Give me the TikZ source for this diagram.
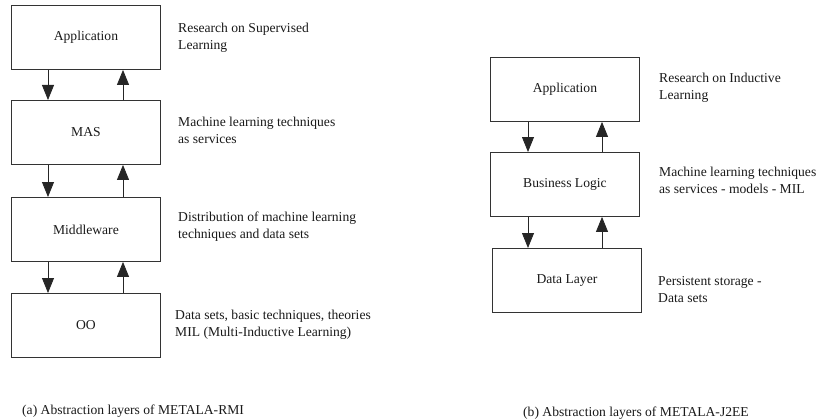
\documentclass[tikz,border=0pt]{standalone}
\usepackage{fontspec}
\setmainfont{Liberation Serif}
\usetikzlibrary{arrows.meta}
\begin{document}
\begin{tikzpicture}[x=1pt,y=-1pt,
  every node/.style={font=\fontsize{13.6}{17}\selectfont, text=black!90},
  layer/.style={draw=black!80, line width=0.9pt, minimum width=149pt, minimum height=64pt, inner sep=0pt, anchor=north west},
  desc/.style={anchor=west, align=left, inner sep=0pt},
  flow/.style={draw=black!85, line width=0.8pt, -{Triangle[width=12pt,length=15pt]}}
]
\useasboundingbox (0,0) rectangle (817,420);
% left stack
\node[layer] (a1) at (11,5) {Application};
\node[layer] (a2) at (11,100) {MAS};
\node[layer] (a3) at (11,197) {Middleware};
\node[layer] (a4) at (11,293) {OO};
\foreach \u/\l in {a1/a2,a2/a3,a3/a4}{
  \draw[flow] ([xshift=37pt]\u.south west) -- ([xshift=37pt]\l.north west);
  \draw[flow] ([xshift=112pt]\l.north west) -- ([xshift=112pt]\u.south west);
}
\node[desc] (t1) at (178,38) {Research on Supervised\\Learning};
\node[desc] (t2) at (178,130) {Machine learning techniques\\as services};
\node[desc] (t3) at (178,226.5) {Distribution of machine learning\\techniques and data sets};
\node[desc] (t4) at (175,325) {Data sets, basic techniques, theories\\MIL (Multi-Inductive Learning)};
\node[desc] (ca) at (22,411) {(a) Abstraction layers of METALA-RMI};
% right stack
\node[layer] (b1) at (490,57) {Application};
\node[layer] (b2) at (490,152) {Business Logic};
\node[layer] (b3) at (492,248) {Data Layer};
\draw[flow] ([xshift=38pt]b1.south west) -- ([xshift=38pt]b2.north west);
\draw[flow] ([xshift=112pt]b2.north west) -- ([xshift=112pt]b1.south west);
\draw[flow] ([xshift=38pt]b2.south west) -- ([xshift=36pt]b3.north west);
\draw[flow] ([xshift=110pt]b3.north west) -- ([xshift=112pt]b2.south west);
\node[desc] (r1) at (659,87.5) {Research on Inductive\\Learning};
\node[desc] (r2) at (659,180) {Machine learning techniques\\as services - models - MIL};
\node[desc] (r3) at (658,289.5) {Persistent storage -\\Data sets};
\node[desc] (cb) at (523,413) {(b) Abstraction layers of METALA-J2EE};
\end{tikzpicture}
\end{document}
